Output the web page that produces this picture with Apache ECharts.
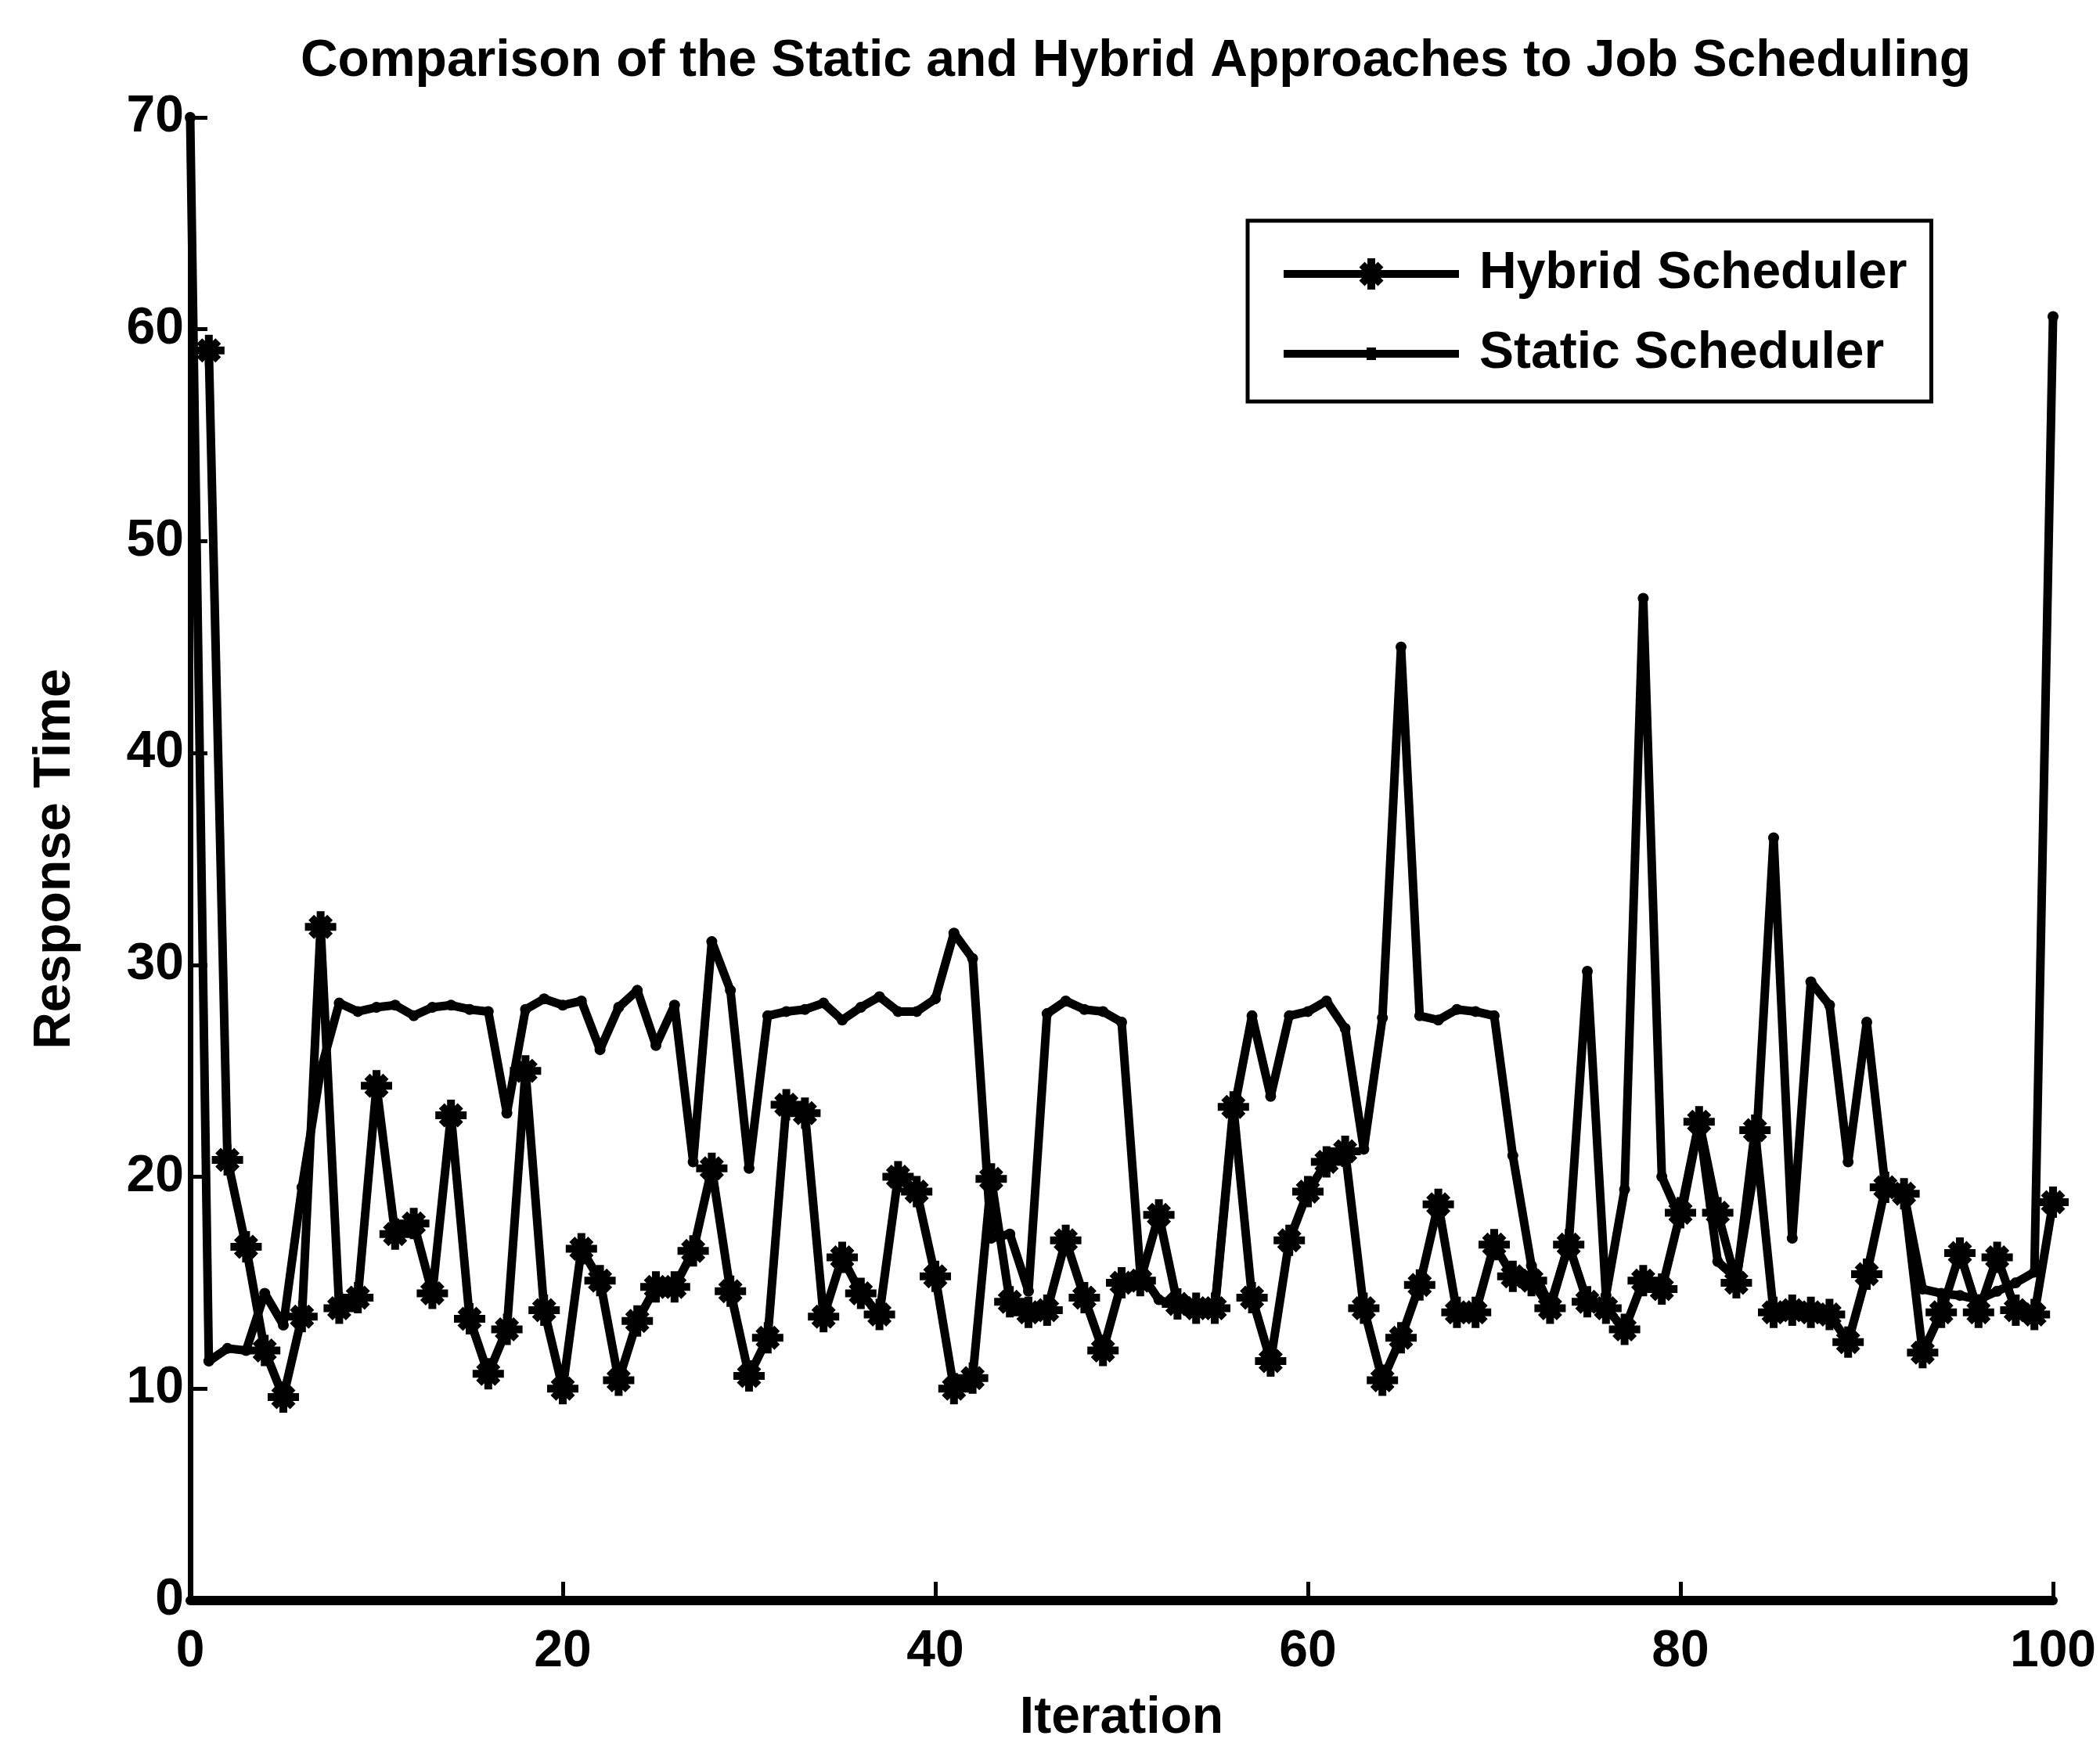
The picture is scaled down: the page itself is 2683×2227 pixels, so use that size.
<!DOCTYPE html>
<html>
<head>
<meta charset="utf-8">
<title>Static vs Hybrid Job Scheduling</title>
<script src="https://cdn.jsdelivr.net/npm/echarts/dist/echarts.min.js"></script>
<style>
    html, body { margin: 0; padding: 0; background: #fff; }
    #chart { width: 2683px; height: 2227px; }
</style>
</head>
<body>
<div id="chart"></div>
<script>
// values

// hybrid scheduler, iterations 1..100
const hybridTimes = [
    59.0, 20.8, 16.7, 11.8, 9.6, 13.4, 31.8, 13.8, 14.3, 24.3,
    17.3, 17.8, 14.5, 22.9, 13.3, 10.7, 12.8, 25.0, 13.7, 10.0,
    16.6, 15.1, 10.4, 13.2, 14.8, 14.8, 16.5, 20.4, 14.6, 10.6,
    12.4, 23.4, 23.0, 13.4, 16.2, 14.5, 13.5, 20.0, 19.3, 15.3,
    10.0, 10.5, 19.9, 14.1, 13.6, 13.7, 17.0, 14.3, 11.8, 15.0,
    15.1, 18.2, 14.0, 13.8, 13.8, 23.3, 14.3, 11.3, 17.0, 19.3,
    20.7, 21.2, 13.8, 10.4, 12.4, 14.9, 18.7, 13.6, 13.6, 16.8,
    15.3, 15.1, 13.8, 16.8, 14.1, 13.8, 12.8, 15.1, 14.7, 18.3,
    22.6, 18.3, 15.0, 22.2, 13.6, 13.7, 13.6, 13.5, 12.2, 15.4,
    19.5, 19.2, 11.7, 13.6, 16.4, 13.6, 16.2, 13.7, 13.5, 18.8
];

// static scheduler, iterations 0..100
const staticTimes = [
    70.0,
    11.3, 11.9, 11.8, 14.5, 13.0, 19.5, 25.0, 28.2, 27.8, 28.0,
    28.1, 27.6, 28.0, 28.1, 27.9, 27.8, 23.0, 27.9, 28.4, 28.1,
    28.3, 26.0, 28.0, 28.8, 26.2, 28.1, 20.7, 31.1, 28.8, 20.4,
    27.6, 27.8, 27.9, 28.2, 27.4, 28.0, 28.5, 27.8, 27.8, 28.4,
    31.5, 30.3, 17.1, 17.3, 14.6, 27.7, 28.3, 27.9, 27.8, 27.3,
    15.5, 14.2, 13.9, 13.7, 13.7, 23.0, 27.6, 23.8, 27.6, 27.8,
    28.3, 27.0, 21.3, 27.5, 45.0, 27.6, 27.4, 27.9, 27.8, 27.6,
    21.0, 15.8, 13.9, 16.8, 29.7, 14.4, 19.4, 47.3, 20.0, 18.0,
    22.5, 16.0, 15.2, 20.5, 36.0, 17.1, 29.2, 28.1, 20.7, 27.3,
    19.5, 19.2, 14.7, 14.5, 14.4, 14.2, 14.6, 15.0, 15.5, 60.6
];

const seriesNames = ['Hybrid Scheduler', 'Static Scheduler'];
const xRange = [0, 100];
const yRange = [0, 70];

const FONT = "'Liberation Sans', Arial, Helvetica, sans-serif";

// matlab style '*' marker, four bars
const STAR = 'path://M0 15L40 15L40 25L0 25Z M15 0L25 0L25 40L15 40Z '
    + 'M11.5 4.5L35.5 28.5L28.5 35.5L4.5 11.5Z '
    + 'M11.5 35.5L4.5 28.5L28.5 4.5L35.5 11.5Z';

// legend samples: line with the marker in the middle
const HYBRID_ICON = 'path://M0 15L224 15L224 25L0 25Z M107 0L117 0L117 40L107 40Z '
    + 'M103.5 4.5L127.5 28.5L120.5 35.5L96.5 11.5Z '
    + 'M103.5 35.5L96.5 28.5L120.5 4.5L127.5 11.5Z';
const STATIC_ICON = 'path://M0 15L224 15L224 25L0 25Z M106 12L118 12L118 28L106 28Z';

const textStyle = {
    fontFamily: FONT,
    fontWeight: 'bold',
    fontSize: 66,
    color: '#000'
};

const chart = echarts.init(document.getElementById('chart'), null, { renderer: 'canvas' });

chart.setOption({
    animation: false,
    backgroundColor: '#fff',
    title: {
        text: 'Comparison of the Static and Hybrid Approaches to Job Scheduling',
        left: 1451,
        top: 46,
        textAlign: 'center',
        padding: 0,
        textStyle: textStyle
    },
    legend: {
        orient: 'vertical',
        left: 1594,
        top: 282,
        padding: [35, 31, 28, 46],
        itemGap: 36,
        itemWidth: 224,
        itemHeight: 40,
        selectedMode: false,
        backgroundColor: '#fff',
        borderColor: '#000',
        borderWidth: 5,
        borderRadius: 0,
        itemStyle: { borderWidth: 0 },
        textStyle: Object.assign({}, textStyle, { padding: [0, 0, 0, 21] }),
        data: [
            { name: seriesNames[0], icon: HYBRID_ICON },
            { name: seriesNames[1], icon: STATIC_ICON }
        ]
    },
    grid: {
        left: 243,
        right: 60,
        top: 150,
        bottom: 182,
        containLabel: false,
        outerBoundsMode: 'none'
    },
    xAxis: {
        type: 'value',
        min: xRange[0],
        max: xRange[1],
        interval: 20,
        name: 'Iteration',
        nameLocation: 'middle',
        nameGap: 118,
        nameTextStyle: textStyle,
        axisLine: { show: true, onZero: false, lineStyle: { color: '#000', width: 12 } },
        axisTick: { show: true, inside: true, length: 24, lineStyle: { color: '#000', width: 5 } },
        axisLabel: Object.assign({ margin: 33 }, textStyle),
        splitLine: { show: false }
    },
    yAxis: {
        type: 'value',
        min: yRange[0],
        max: yRange[1],
        interval: 10,
        name: 'Response Time',
        nameLocation: 'middle',
        nameGap: 139,
        nameTextStyle: textStyle,
        axisLine: { show: true, onZero: false, lineStyle: { color: '#000', width: 7 } },
        axisTick: { show: true, inside: true, length: 22, lineStyle: { color: '#000', width: 5 } },
        axisLabel: Object.assign({ margin: 8 }, textStyle),
        splitLine: { show: false }
    },
    series: [
        {
            name: seriesNames[0],
            type: 'line',
            silent: true,
            data: hybridTimes.map((v, i) => [i + 1, v]),
            symbol: STAR,
            symbolSize: 40,
            showAllSymbol: true,
            itemStyle: { color: '#000', borderWidth: 0 },
            lineStyle: { color: '#000', width: 11, join: 'round', cap: 'round' },
            z: 3
        },
        {
            name: seriesNames[1],
            type: 'line',
            silent: true,
            data: staticTimes.map((v, i) => [i, v]),
            symbol: 'circle',
            symbolSize: 14,
            showAllSymbol: true,
            itemStyle: { color: '#000', borderWidth: 0 },
            lineStyle: { color: '#000', width: 11, join: 'round', cap: 'round' },
            z: 2
        }
    ]
});
</script>
</body>
</html>
